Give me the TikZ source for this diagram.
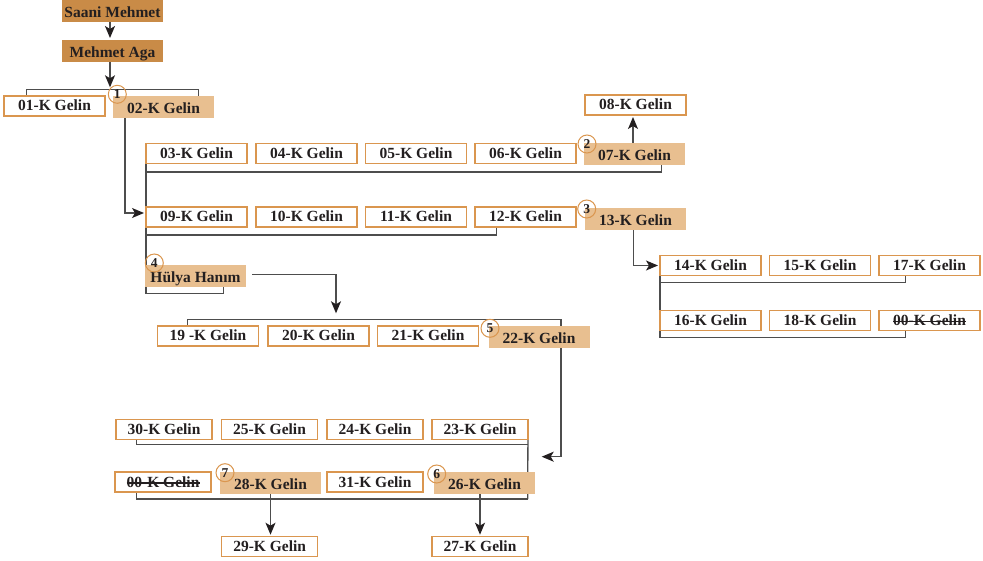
\documentclass[tikz,border=0pt]{standalone}
\usepackage{fontspec}
\setmainfont{Liberation Serif}
\usetikzlibrary{arrows.meta,calc}
\definecolor{darkor}{HTML}{C98B47}
\definecolor{lightor}{HTML}{E8BF90}
\definecolor{bord}{HTML}{DA964F}
\definecolor{lncol}{HTML}{4D4D4D}
\definecolor{txt}{HTML}{231F20}
\pgfdeclarelayer{bg}
\pgfsetlayers{bg,main}
\begin{document}
\begin{tikzpicture}[x=1pt,y=-1pt,
  base/.style={inner sep=0, outer sep=0, anchor=north west, text=txt,
    font=\fontsize{15.5}{18}\selectfont\bfseries, text height=10, text depth=0},
  wbox/.style={base, draw=bord, line width=1.4pt, fill=white, minimum width=#1, minimum height=20},
  wbox/.default=101,
  fbox/.style={base, fill=lightor, minimum width=#1, minimum height=22, text height=12.8},
  fbox/.default=101,
  dbox/.style={base, fill=darkor, minimum width=101, minimum height=22, text height=12.6},
  circ/.style={circle, draw=bord, line width=1pt, minimum size=18, inner sep=0, text=txt,
    font=\fontsize{13.5}{13.5}\selectfont\bfseries},
  ln/.style={draw=lncol, line width=1.3pt},
  strike/.style={draw=txt, line width=1.1pt},
  arr/.style={draw=lncol, line width=1.3pt, -{Stealth[length=12pt,width=10pt,inset=3pt,color=txt]}, shorten >=2pt}
]
\useasboundingbox (0,0) rectangle (983,561);

% top
\node[dbox] (saani) at (62,0) {Saani Mehmet};
\node[dbox] (mehmet) at (62,40) {Mehmet Aga};
% row A
\node[wbox] (g01) at (4,96) {01-K Gelin};
\node[fbox] (g02) at (113,96) {02-K Gelin};
% row B
\node[wbox] (g03) at (146,143.5) {03-K Gelin};
\node[wbox] (g04) at (256,143.5) {04-K Gelin};
\node[wbox] (g05) at (365.5,143.5) {05-K Gelin};
\node[wbox] (g06) at (475,143.5) {06-K Gelin};
\node[fbox] (g07) at (584,143.3) {07-K Gelin};
\node[wbox] (g08) at (585,95) {08-K Gelin};
% row C
\node[wbox] (g09) at (146,207) {09-K Gelin};
\node[wbox] (g10) at (256,207) {10-K Gelin};
\node[wbox] (g11) at (365.5,207) {11-K Gelin};
\node[wbox] (g12) at (475,207) {12-K Gelin};
\node[fbox] (g13) at (585,208.3) {13-K Gelin};
% rows D, E
\node[wbox] (g14) at (660,255.5) {14-K Gelin};
\node[wbox] (g15) at (769.5,255.5) {15-K Gelin};
\node[wbox] (g17) at (879,255.5) {17-K Gelin};
\node[wbox] (g16) at (660,310.5) {16-K Gelin};
\node[wbox] (g18) at (769.5,310.5) {18-K Gelin};
\node[wbox] (g00a) at (879,310.5) {00-K Gelin};
% Hulya
\node[fbox] (hulya) at (145,265) {Hülya Hanım};
% row F
\node[wbox] (g19) at (157.5,326) {19 -K Gelin};
\node[wbox] (g20) at (268,326) {20-K Gelin};
\node[wbox] (g21) at (377.5,326) {21-K Gelin};
\node[fbox] (g22) at (488.5,326.2) {22-K Gelin};
% row G
\node[wbox=96] (g30) at (116,419.5) {30-K Gelin};
\node[wbox=96] (g25) at (221.5,419.5) {25-K Gelin};
\node[wbox=96] (g24) at (327,419.5) {24-K Gelin};
\node[wbox=96] (g23) at (432,419.5) {23-K Gelin};
% row H
\node[wbox=96] (g00b) at (115,472) {00-K Gelin};
\node[fbox] (g28) at (220,471.7) {28-K Gelin};
\node[wbox=96] (g31) at (327,472) {31-K Gelin};
\node[fbox] (g26) at (434,471.7) {26-K Gelin};
% row I
\node[wbox=96] (g29) at (221.7,536.7) {29-K Gelin};
\node[wbox=96] (g27) at (432,536.7) {27-K Gelin};

% strike-through on the two 00 boxes
\draw[strike] ($(g00a.center)+(-36.5,1)$) -- ($(g00a.center)+(36.5,1)$);
\draw[strike] ($(g00b.center)+(-36.5,1)$) -- ($(g00b.center)+(36.5,1)$);

% circles
\node[circ] (c1) at (117.3,94.3) {1};
\node[circ] (c2) at (587,144) {2};
\node[circ] (c3) at (586.7,209) {3};
\node[circ] (c4) at (154.3,263) {4};
\node[circ] (c5) at (490,328.3) {5};
\node[circ] (c6) at (436.7,474) {6};
\node[circ] (c7) at (225,472.7) {7};

% helper coordinates
\coordinate (bAl) at (26.7,89.3);
\coordinate (bAr) at (198.3,89.3);
\coordinate (s1) at ([xshift=-2.5]saani.south);
\coordinate (m1) at ([xshift=-2.5]mehmet.north);
\coordinate (m2) at ([xshift=-2.5]mehmet.south);
\coordinate (a02) at ([xshift=-38.5]g02.south);
\coordinate (a09) at ([yshift=4]g09.west);
\coordinate (bBy) at (146,172);
\coordinate (b7) at ([xshift=27.2]g07.south);
\coordinate (bCy) at (146,235);
\coordinate (b12) at ([xshift=-29]g12.south);
\coordinate (bHy) at (146,293.3);
\coordinate (hR) at ([xshift=27.8]hulya.south);
\coordinate (a7) at ([xshift=-1.5]g07.north);
\coordinate (a13) at ([xshift=-2.2]g13.south);
\coordinate (yD) at (0,282.7);
\coordinate (yE) at (0,337.7);
\coordinate (b17) at ([xshift=-24]g17.south);
\coordinate (b00) at ([xshift=-24]g00a.south);
\coordinate (hA) at ([xshift=6,yshift=1.3]hulya.east);
\coordinate (fTop) at (336,319.3);
\coordinate (fL) at (187.3,319.3);
\coordinate (fR) at (561,319.3);
\coordinate (a22) at ([xshift=22]g22.south);
\coordinate (gR) at (527.7,456.7);
\coordinate (gX) at (527.7,499);
\coordinate (gL) at (136.7,444.3);
\coordinate (hL) at (136.7,499);

\begin{pgfonlayer}{bg}
  \draw[arr] (s1) -- (m1);
  \draw[arr] (m2) -- (m2 |- bAl);
  \draw[ln] (bAl |- g01.north) -- (bAl) -- (bAr) -- (bAr |- g02.north);
  \draw[arr] (a02) |- (a09);
  \draw[ln] (g03.south west) |- (hR |- bHy) -- (hR);
  \draw[ln] (bBy) -| (b7);
  \draw[ln] (bCy) -| (b12);
  \draw[arr] (a7) -- (a7 |- g08.south);
  \draw[arr] (a13) |- (g14.west);
  \draw[ln] (g14.south west) |- (b00 |- yE) -- (b00);
  \draw[ln] (g14.south west |- yD) -| (b17);
  \draw[arr, shorten >=6pt] (hA) -| (fTop);
  \draw[ln] (fL |- g19.north) -- (fL) -- (fR) -- (fR |- g22.north);
  \draw[arr, shorten >=14pt] (a22) |- (gR);
  \draw[ln] (g23.north east) -- (gX);
  \draw[ln] (gL |- g30.south) -- (gL) -- (gL -| gX);
  \draw[ln] (hL |- g00b.south) -- (hL) -- (gX);
  \draw[arr] (g28.south) -- (g28.south |- g29.north);
  \draw[arr] (g27.north |- g26.south) -- (g27.north);
\end{pgfonlayer}
\end{tikzpicture}
\end{document}
